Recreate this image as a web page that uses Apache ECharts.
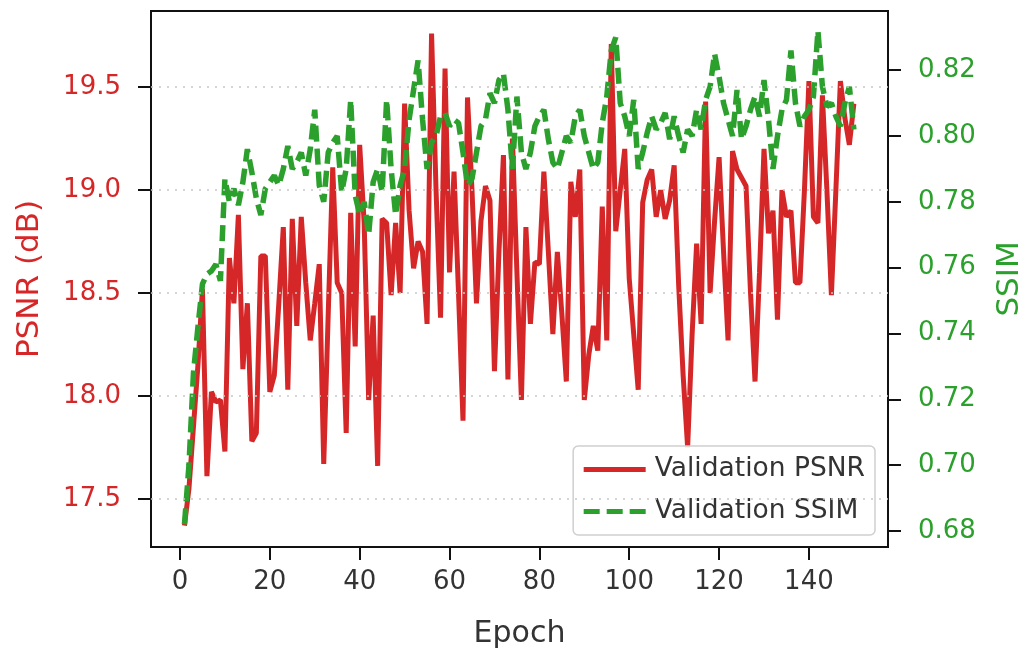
<!DOCTYPE html>
<html>
<head>
<meta charset="utf-8">
<script src="https://cdn.jsdelivr.net/npm/echarts@6/dist/echarts.min.js"></script>
<style>
html, body { margin: 0; padding: 0; background: #fff; }
#main { width: 1028px; height: 657px; }
</style>
</head>
<body>
<div id="main"></div>
<script>
// validation curves, one value per epoch (1..150)
const psnr = [
    17.37, 17.55, 17.85, 18.15, 18.52, 17.61, 18.02, 17.97, 17.98, 17.73,
    18.67, 18.45, 18.88, 18.13, 18.45, 17.78, 17.82, 18.68, 18.68, 18.02,
    18.10, 18.45, 18.82, 18.03, 18.86, 18.34, 18.87, 18.55, 18.27, 18.45,
    18.64, 17.67, 18.40, 19.11, 18.55, 18.50, 17.82, 18.89, 18.24, 19.22,
    18.84, 17.98, 18.39, 17.66, 18.86, 18.84, 18.49, 18.84, 18.50, 19.42,
    18.90, 18.62, 18.75, 18.70, 18.35, 19.76, 19.00, 18.38, 19.59, 18.60,
    19.09, 18.50, 17.88, 19.45, 19.00, 18.45, 18.85, 19.02, 18.95, 18.12,
    18.70, 19.17, 18.08, 19.25, 18.60, 17.98, 18.82, 18.35, 18.65, 18.64,
    19.09, 18.70, 18.30, 18.70, 18.40, 18.07, 19.04, 18.87, 19.10, 17.98,
    18.20, 18.34, 18.22, 18.92, 18.27, 19.71, 18.80, 19.00, 19.20, 18.57,
    18.30, 18.03, 18.94, 19.05, 19.10, 18.87, 19.00, 18.86, 18.95, 19.12,
    18.54, 18.10, 17.75, 18.30, 18.74, 18.35, 19.43, 18.50, 18.85, 19.16,
    18.70, 18.27, 19.19, 19.10, 19.06, 19.02, 18.50, 18.07, 18.60, 19.20,
    18.79, 18.90, 18.37, 19.00, 18.87, 18.90, 18.55, 18.55, 19.00, 19.53,
    18.87, 18.84, 19.46, 19.00, 18.49, 19.00, 19.53, 19.35, 19.22, 19.42
];
const ssim = [
    0.682, 0.700, 0.728, 0.742, 0.755, 0.758, 0.759, 0.761, 0.756, 0.787,
    0.780, 0.784, 0.779, 0.786, 0.796, 0.789, 0.781, 0.776, 0.784, 0.786,
    0.788, 0.785, 0.790, 0.797, 0.790, 0.792, 0.795, 0.788, 0.796, 0.808,
    0.785, 0.780, 0.795, 0.798, 0.800, 0.783, 0.790, 0.811, 0.782, 0.776,
    0.780, 0.770, 0.786, 0.790, 0.783, 0.811, 0.790, 0.776, 0.785, 0.790,
    0.805, 0.814, 0.823, 0.805, 0.790, 0.798, 0.800, 0.806, 0.807, 0.803,
    0.805, 0.804, 0.795, 0.785, 0.787, 0.795, 0.803, 0.805, 0.813, 0.810,
    0.817, 0.819, 0.808, 0.790, 0.812, 0.795, 0.790, 0.795, 0.803, 0.806,
    0.808, 0.799, 0.792, 0.790, 0.795, 0.800, 0.798, 0.806, 0.808, 0.800,
    0.795, 0.790, 0.792, 0.804, 0.812, 0.826, 0.830, 0.810, 0.806, 0.800,
    0.811, 0.790, 0.795, 0.801, 0.806, 0.802, 0.804, 0.807, 0.799, 0.806,
    0.800, 0.795, 0.802, 0.800, 0.808, 0.802, 0.811, 0.815, 0.825, 0.818,
    0.810, 0.805, 0.800, 0.814, 0.799, 0.803, 0.808, 0.812, 0.806, 0.817,
    0.805, 0.790, 0.800, 0.808, 0.811, 0.826, 0.810, 0.803, 0.806, 0.808,
    0.812, 0.832, 0.815, 0.809, 0.810, 0.806, 0.803, 0.810, 0.815, 0.802
];
const epochTicks = [0, 20, 40, 60, 80, 100, 120, 140];
const psnrTicks = [17.5, 18.0, 18.5, 19.0, 19.5];
const ssimTicks = [0.68, 0.70, 0.72, 0.74, 0.76, 0.78, 0.80, 0.82];

const RED = '#d62728';
const GREEN = '#2ca02c';
const FONT = 'DejaVu Sans';

let chart = echarts.init(document.getElementById('main'), null, {renderer: 'canvas'});

let option = {
    animation: false,
    backgroundColor: '#fff',
    textStyle: {fontFamily: FONT},
    grid: {
        left: 151, right: 140, top: 11, bottom: 110,
        outerBoundsMode: 'none',
        show: true, borderColor: '#111', borderWidth: 2
    },
    legend: {
        orient: 'vertical',
        right: 153,
        bottom: 122,
        itemWidth: 62,
        itemHeight: 14,
        itemGap: 15,
        padding: [10, 10, 10, 8],
        borderColor: '#cfcfcf',
        borderWidth: 1.5,
        borderRadius: 5,
        backgroundColor: 'rgba(255,255,255,0.85)',
        itemStyle: {opacity: 0},
        lineStyle: {width: 5},
        textStyle: {fontFamily: FONT, fontSize: 26.5, color: '#333', padding: [0, 0, 0, 4]},
        data: ['Validation PSNR', 'Validation SSIM']
    },
    xAxis: {
        type: 'value',
        min: -6.45,
        max: 157.6,
        name: 'Epoch',
        nameLocation: 'middle',
        nameGap: 72,
        nameTextStyle: {fontFamily: FONT, fontSize: 30, color: '#333'},
        axisLine: {onZero: false, lineStyle: {color: '#111', width: 2}},
        axisTick: {customValues: epochTicks, length: 13, lineStyle: {color: '#111', width: 2}},
        axisLabel: {customValues: epochTicks, margin: 22, fontFamily: FONT, fontSize: 26, color: '#333'},
        splitLine: {show: false}
    },
    yAxis: [
        {
            type: 'value',
            position: 'left',
            min: 17.266,
            max: 19.87,
            name: 'PSNR (dB)',
            nameLocation: 'middle',
            nameGap: 106,
            nameTextStyle: {fontFamily: FONT, fontSize: 31, color: RED},
            axisLine: {show: true, onZero: false, lineStyle: {color: '#111', width: 2}},
            axisTick: {show: true, customValues: psnrTicks, length: 13, lineStyle: {color: '#111', width: 2}},
            axisLabel: {
                customValues: psnrTicks, margin: 30, fontFamily: FONT, fontSize: 26, color: RED,
                formatter: v => v.toFixed(1)
            },
            splitLine: {show: false}
        },
        {
            type: 'value',
            position: 'right',
            min: 0.6751,
            max: 0.838,
            name: 'SSIM',
            nameLocation: 'middle',
            nameGap: 106,
            nameRotate: 90,
            nameTextStyle: {fontFamily: FONT, fontSize: 31, color: GREEN},
            axisLine: {show: true, onZero: false, lineStyle: {color: '#111', width: 2}},
            axisTick: {show: true, customValues: ssimTicks, length: 13, lineStyle: {color: '#111', width: 2}},
            axisLabel: {
                customValues: ssimTicks, margin: 30, fontFamily: FONT, fontSize: 26, color: GREEN,
                formatter: v => v.toFixed(2)
            },
            splitLine: {show: false}
        }
    ],
    series: [
        {
            // dotted horizontal grid at the PSNR ticks
            name: 'grid',
            type: 'line',
            yAxisIndex: 0,
            data: [],
            silent: true,
            markLine: {
                silent: true,
                symbol: 'none',
                label: {show: false},
                lineStyle: {color: '#c8c8c8', type: [2, 6], width: 1.5},
                data: psnrTicks.map(v => ({yAxis: v}))
            }
        },
        {
            name: 'Validation PSNR',
            type: 'line',
            yAxisIndex: 0,
            symbol: 'none',
            lineStyle: {color: RED, width: 5},
            itemStyle: {color: RED},
            data: psnr.map((v, i) => [i + 1, v])
        },
        {
            name: 'Validation SSIM',
            type: 'line',
            yAxisIndex: 1,
            symbol: 'none',
            lineStyle: {color: GREEN, width: 5.5, type: [16, 7]},
            itemStyle: {color: GREEN},
            data: ssim.map((v, i) => [i + 1, v])
        }
    ]
};

chart.setOption(option);
</script>
</body>
</html>
